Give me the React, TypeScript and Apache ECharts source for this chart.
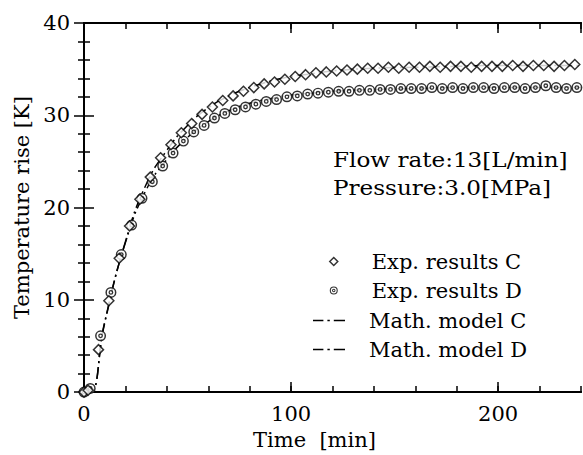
import React, { useEffect, useRef } from 'react';
import * as echarts from 'echarts';

// Experimental results C (time [min], temperature rise [K])
const timeC = [0, 2, 7, 12, 17, 22, 27, 32, 37, 42, 47, 52, 57, 62, 67, 72, 77, 82, 87, 92, 97, 102, 107, 112, 117, 122, 127, 132, 137, 142, 147, 152, 157, 162, 167, 172, 177, 182, 187, 192, 197, 202, 207, 212, 217, 222, 227, 232, 237];
const expC = [0, 0.2, 4.6, 9.9, 14.5, 18.0, 20.9, 23.3, 25.4, 26.8, 28.1, 29.1, 30.1, 30.9, 31.6, 32.1, 32.6, 33.0, 33.4, 33.6, 33.9, 34.2, 34.4, 34.6, 34.7, 34.8, 34.9, 35.0, 35.1, 35.1, 35.2, 35.1, 35.2, 35.2, 35.3, 35.2, 35.3, 35.3, 35.2, 35.3, 35.3, 35.3, 35.4, 35.3, 35.4, 35.4, 35.3, 35.4, 35.5];

// Experimental results D
const timeD = [0, 3, 8, 13, 18, 23, 28, 33, 38, 43, 48, 53, 58, 63, 68, 73, 78, 83, 88, 93, 98, 103, 108, 113, 118, 123, 128, 133, 138, 143, 148, 153, 158, 163, 168, 173, 178, 183, 188, 193, 198, 203, 208, 213, 218, 223, 228, 233, 238];
const expD = [0, 0.4, 6.1, 10.8, 14.9, 18.1, 21.0, 22.8, 24.5, 25.9, 27.2, 28.2, 28.9, 29.7, 30.2, 30.6, 30.9, 31.2, 31.5, 31.7, 32.0, 32.1, 32.3, 32.4, 32.5, 32.6, 32.6, 32.7, 32.7, 32.8, 32.8, 32.9, 32.9, 32.9, 33.0, 32.9, 33.0, 32.9, 33.0, 33.0, 32.9, 33.0, 33.0, 32.9, 33.0, 33.2, 33.0, 32.9, 33.0];

// Mathematical models
const timeModel = [0, 3, 10, 20, 30, 40, 50, 60, 70, 80, 90, 100, 110, 120, 140, 160, 180, 200, 220, 240];
const modelC = [0, 0, 7.5, 16.3, 22.5, 26.2, 28.9, 30.8, 32.1, 33.0, 33.7, 34.2, 34.5, 34.8, 35.1, 35.2, 35.3, 35.4, 35.4, 35.4];
const modelD = [0, 0, 7.6, 16.2, 21.9, 25.2, 27.6, 29.3, 30.5, 31.3, 31.8, 32.2, 32.4, 32.6, 32.8, 32.9, 33.0, 33.0, 33.0, 33.0];

const xTicksMajor = 100;
const xTicksMinor = 20;
const yTicks = 10;

const NAME_EXP_C = 'Exp. results C';
const NAME_EXP_D = 'Exp. results D';
const NAME_MOD_C = 'Math. model C';
const NAME_MOD_D = 'Math. model D';
const infoLines = ['Flow rate:13[L/min]', 'Pressure:3.0[MPa]'];

const FONT = 'DejaVu Serif';
const FS = 21;
const RING =
  'path://M10 0A10 10 0 1 1 -10 0A10 10 0 1 1 10 0Z' +
  'M7.3 0A7.3 7.3 0 1 0 -7.3 0A7.3 7.3 0 1 0 7.3 0Z' +
  'M4.4 0A4.4 4.4 0 1 1 -4.4 0A4.4 4.4 0 1 1 4.4 0Z' +
  'M2 0A2 2 0 1 0 -2 0A2 2 0 1 0 2 0Z';
const DASHDOT_ICON = 'path://M0 0h13v2h-13z M18 0h3v2h-3z M26 0h14v2h-14z';

export default function App() {
  const ref = useRef<HTMLDivElement>(null);
  useEffect(() => {
    const chart = echarts.init(ref.current!, null, { renderer: 'svg' });
    const axisLine = { show: true, lineStyle: { color: '#000', width: 2 } };
    const tickStyle = { color: '#000', width: 1.5 };
    const textBase = { fontFamily: FONT, fontSize: FS, color: '#000' };
    const xBase = { type: 'value', min: 0, max: 240, axisLine, splitLine: { show: false } };
    const yBase = {
      type: 'value', min: 0, max: 40, interval: yTicks, axisLine,
      splitLine: { show: false },
      axisTick: { show: true, inside: true, length: 10, lineStyle: tickStyle },
      minorTick: { show: true, splitNumber: 5, length: 6, lineStyle: tickStyle },
    };
    const pairs = (ts: number[], vs: number[]) => ts.map((t, i) => [t, vs[i]]);
    const dashDot = [12, 4, 2, 4];

    chart.setOption({
      animation: false,
      backgroundColor: '#fff',
      textStyle: { fontFamily: FONT },
      grid: { left: 84, right: 2, top: 23, bottom: 59 },
      xAxis: [
        {
          ...xBase, position: 'bottom', interval: xTicksMajor,
          axisTick: { show: true, inside: true, length: 10, lineStyle: tickStyle },
          axisLabel: { ...textBase, margin: 11, showMaxLabel: false },
          name: 'Time  [min]', nameLocation: 'middle', nameGap: 33,
          nameTextStyle: { ...textBase, padding: [0, 36, 0, 0] },
        },
        {
          ...xBase, position: 'bottom', interval: xTicksMinor,
          axisTick: { show: true, inside: true, length: 6, lineStyle: tickStyle },
          axisLabel: { show: false },
        },
        {
          ...xBase, position: 'top', interval: xTicksMajor,
          axisTick: { show: true, inside: true, length: 10, lineStyle: tickStyle },
          axisLabel: { show: false },
        },
        {
          ...xBase, position: 'top', interval: xTicksMinor,
          axisTick: { show: true, inside: true, length: 6, lineStyle: tickStyle },
          axisLabel: { show: false },
        },
      ],
      yAxis: [
        {
          ...yBase, position: 'left',
          axisLabel: { ...textBase, margin: 14 },
          name: 'Temperature rise [K]', nameLocation: 'middle', nameGap: 48,
          nameTextStyle: { ...textBase },
        },
        { ...yBase, position: 'right', axisLabel: { show: false } },
      ],
      legend: [
        {
          orient: 'vertical', left: 329, top: 251, padding: 0,
          itemWidth: 8, itemHeight: 8, itemGap: 8, selectedMode: false,
          textStyle: { ...textBase, lineHeight: 21, padding: [0, 0, 0, 29] },
          data: [
            { name: NAME_EXP_C, icon: 'diamond', itemStyle: { color: '#fff', borderColor: '#000', borderWidth: 1.5 } },
            { name: NAME_EXP_D, icon: RING, itemStyle: { color: '#000', borderWidth: 0 } },
          ],
        },
        {
          orient: 'vertical', left: 313, top: 310, padding: 0,
          itemWidth: 40, itemHeight: 1.6, itemGap: 8, selectedMode: false,
          textStyle: { ...textBase, lineHeight: 21, padding: [0, 0, 0, 15] },
          data: [
            { name: NAME_MOD_C, icon: DASHDOT_ICON, itemStyle: { color: '#000', borderWidth: 0 } },
            { name: NAME_MOD_D, icon: DASHDOT_ICON, itemStyle: { color: '#000', borderWidth: 0 } },
          ],
        },
      ],
      graphic: infoLines.map((t, i) => ({
        type: 'text', x: 333, y: 160 + i * 28, scaleX: 1.1,
        style: { text: t, fontFamily: FONT, fontSize: FS, fill: '#000', verticalAlign: 'middle', align: 'left' },
      })),
      series: [
        {
          name: NAME_MOD_C, type: 'line', data: pairs(timeModel, modelC), smooth: true,
          symbol: 'none', z: 2, color: '#000',
          lineStyle: { color: '#000', width: 1.5, type: dashDot },
        },
        {
          name: NAME_MOD_D, type: 'line', data: pairs(timeModel, modelD), smooth: true,
          symbol: 'none', z: 2, color: '#000',
          lineStyle: { color: '#000', width: 1.5, type: dashDot },
        },
        {
          name: 'bgD', type: 'scatter', data: pairs(timeD, expD), symbol: 'circle', symbolSize: 10,
          itemStyle: { color: '#fff' }, z: 3, silent: true,
        },
        {
          name: NAME_EXP_D, type: 'scatter', data: pairs(timeD, expD), symbol: RING, symbolSize: 11,
          itemStyle: { color: '#000' }, z: 4,
        },
        {
          name: NAME_EXP_C, type: 'scatter', data: pairs(timeC, expC), symbol: 'diamond', symbolSize: 10,
          itemStyle: { color: '#fff', borderColor: '#000', borderWidth: 1.5 }, z: 5,
        },
      ],
    });
    return () => chart.dispose();
  }, []);
  return (
    <div
      ref={ref}
      style={{ position: 'fixed', left: 0, top: 0, width: 583, height: 455, background: '#fff' }}
    />
  );
}
